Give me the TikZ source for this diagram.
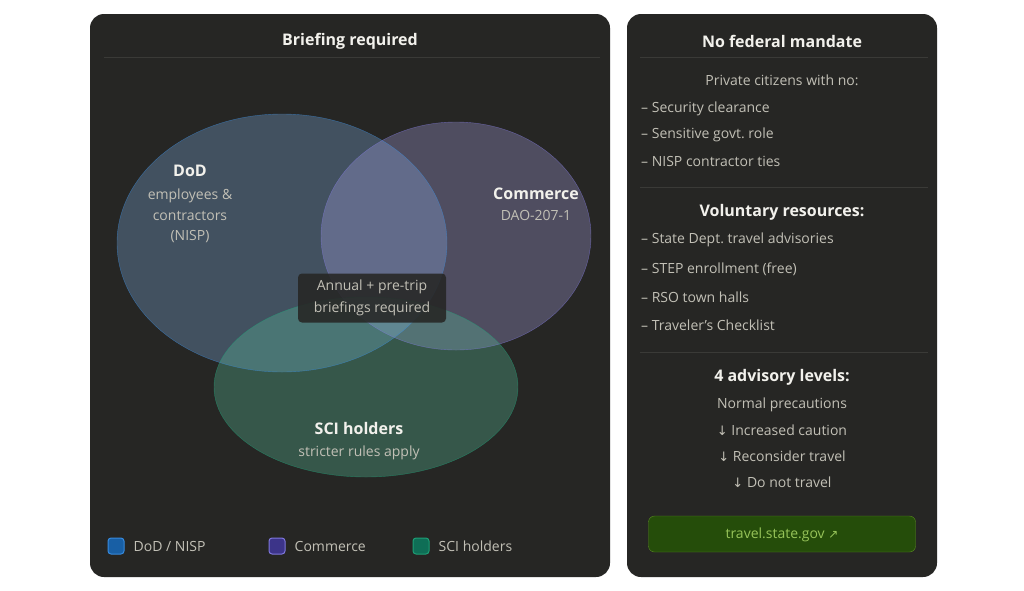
\documentclass[tikz,border=0pt]{standalone}
\usepackage{fontspec}
\setmainfont{Open Sans}
\newfontfamily\arrfont{DejaVu Sans}
\usetikzlibrary{positioning}

\definecolor{panelbg}{HTML}{262624}
\definecolor{rulecol}{HTML}{3A3A37}
\definecolor{headcol}{HTML}{F2F1EC}
\definecolor{bodycol}{HTML}{C2C0B6}
\definecolor{dodfill}{HTML}{85B7EB}
\definecolor{doddraw}{HTML}{378ADD}
\definecolor{dodkey}{HTML}{185FA5}
\definecolor{comfill}{HTML}{AFA9EC}
\definecolor{comdraw}{HTML}{7F77DD}
\definecolor{comkey}{HTML}{3C3489}
\definecolor{scifill}{HTML}{5DCAA5}
\definecolor{scidraw}{HTML}{1D9E75}
\definecolor{scikey}{HTML}{0F6E56}
\definecolor{linkbg}{HTML}{254D0A}
\definecolor{linkdraw}{HTML}{5A8A22}
\definecolor{linktxt}{HTML}{97C459}

\begin{document}
\begin{tikzpicture}[x=1pt,y=-1pt,
  panel/.style={fill=panelbg, rounded corners=14pt},
  head/.style={font=\fontsize{16}{19}\selectfont\bfseries, text=headcol},
  body/.style={font=\fontsize{14}{16}\selectfont, text=bodycol, inner sep=0pt},
  item/.style={body, anchor=west},
  rule/.style={draw=rulecol, line width=0.8pt},
  setname/.style={font=\fontsize{16}{19}\selectfont\bfseries, text=headcol, inner sep=0pt},
  keybox/.style={minimum size=16pt, rounded corners=3pt, line width=1pt, inner sep=0pt},
]
\fill[white] (0,0) rectangle (1024,590);

% left panel
\fill[panel] (90,14) rectangle (610,577);
\node[head] (lefthead) at (350,41) {Briefing required};
\draw[rule] (104,57) -- (600,57);

\fill[dodfill, fill opacity=0.3] (282,243) ellipse [x radius=165pt, y radius=129pt];
\fill[comfill, fill opacity=0.3] (456,236) ellipse [x radius=135pt, y radius=114pt];
\fill[scifill, fill opacity=0.3] (366,387) ellipse [x radius=152pt, y radius=90pt];
\draw[doddraw, draw opacity=0.6] (282,243) ellipse [x radius=165pt, y radius=129pt];
\draw[comdraw, draw opacity=0.6] (456,236) ellipse [x radius=135pt, y radius=114pt];
\draw[scidraw, draw opacity=0.6] (366,387) ellipse [x radius=152pt, y radius=90pt];

\node[setname] (dod) at (190,171) {DoD};
\node[body, align=center, font=\fontsize{14}{20.5}\selectfont, below=12pt of dod] (dodsub) {employees \&\\contractors\\(NISP)};
\node[setname] (com) at (536,194) {Commerce};
\node[body, below=10pt of com] (comsub) {DAO-207-1};
\node[setname] (sci) at (359,428) {SCI holders};
\node[body, below=11pt of sci] (scisub) {stricter rules apply};

\node[fill=panelbg, fill opacity=0.88, text opacity=1, rounded corners=4pt,
  minimum width=148pt, minimum height=49pt, align=center, text=bodycol,
  font=\fontsize{14}{22}\selectfont] (core) at (372,298) {Annual + pre-trip\\briefings required};

% legend
\node[keybox, fill=dodkey, draw=doddraw] (keydod) at (116,546) {};
\node[body, right=9pt of keydod] (keydodtxt) {DoD / NISP};
\node[keybox, fill=comkey, draw=comdraw] (keycom) at (277,546) {};
\node[body, right=9pt of keycom] (keycomtxt) {Commerce};
\node[keybox, fill=scikey, draw=scidraw] (keysci) at (421,546) {};
\node[body, right=9pt of keysci] (keyscitxt) {SCI holders};

% right panel
\fill[panel] (627,14) rectangle (937,577);
\node[head] (righthead) at (782,41) {No federal mandate};
\draw[rule] (640,57) -- (928,57);

\node[body] (private) at (782,80) {Private citizens with no:};
\node[item] (noclear) at (641,109) {-- Security clearance};
\node[item] (norole) at (641,135) {-- Sensitive govt.\ role};
\node[item] (noties) at (641,161) {-- NISP contractor ties};
\draw[rule] (640,187) -- (928,187);

\node[head, inner sep=0pt] (volhead) at (782,212) {Voluntary resources:};
\node[item] (advis) at (641,240) {-- State Dept.\ travel advisories};
\node[item] (step) at (641,269) {-- STEP enrollment (free)};
\node[item] (rso) at (641,297) {-- RSO town halls};
\node[item] (check) at (641,325) {-- Traveler's Checklist};
\draw[rule] (640,352) -- (928,352);

\node[head, inner sep=0pt] (lvlhead) at (782,377) {4 advisory levels:};
\node[body] (lvlone) at (782,405) {Normal precautions};
\node[body] (lvltwo) at (782,430) {{\arrfont\fontsize{13}{16}\selectfont↓} Increased caution};
\node[body] (lvlthree) at (782,456) {{\arrfont\fontsize{13}{16}\selectfont↓} Reconsider travel};
\node[body] (lvlfour) at (782,482) {{\arrfont\fontsize{13}{16}\selectfont↓} Do not travel};

\node[fill=linkbg, draw=linkdraw, rounded corners=6pt, minimum width=267pt,
  minimum height=36pt, text=linktxt, font=\fontsize{14}{16}\selectfont] (linkbox) at (782,534) {};
\node[body, text=linktxt] (link) at (782,535)
  {travel.state.gov {\arrfont\fontsize{12}{16}\selectfont↗}};
\end{tikzpicture}
\end{document}
